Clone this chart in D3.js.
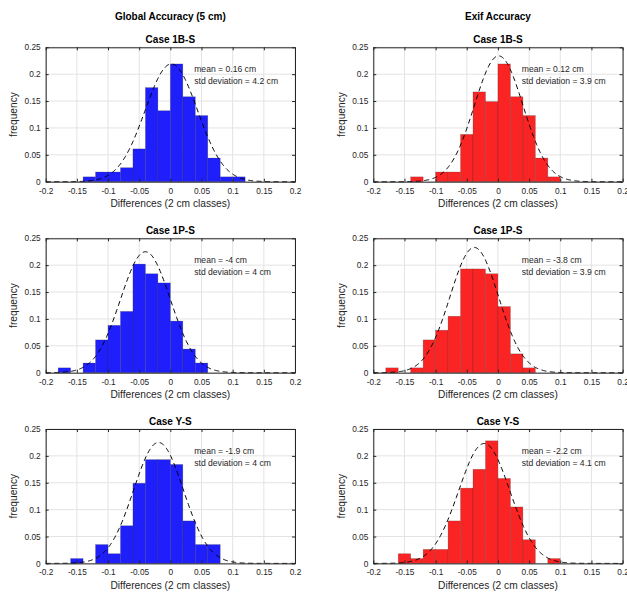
<!DOCTYPE html>
<html><head><meta charset="utf-8">
<script src="https://cdn.jsdelivr.net/npm/d3@7"></script>
<style>body{margin:0;background:#fff;} svg{display:block;font-family:"Liberation Sans",Arial,sans-serif;}</style>
</head><body>
<svg id="c" width="627" height="592"></svg>
<script>
// ---- data ----
const columnTitles = ["Global Accuracy (5 cm)", "Exif Accuracy"];
const caseTitles = ["Case 1B-S", "Case 1P-S", "Case Y-S"];
const binEdgesLeft = [-0.2,-0.18,-0.16,-0.14,-0.12,-0.1,-0.08,-0.06,-0.04,-0.02,0,0.02,0.04,0.06,0.08,0.1,0.12,0.14,0.16,0.18];
// frequencies per bin (bins start at binEdgesLeft)
const global1B = [0,0,0,0.009,0.018,0.018,0.026,0.061,0.175,0.132,0.219,0.158,0.123,0.044,0.009,0.009,0,0,0,0];
const exif1B   = [0,0,0,0.009,0,0.018,0.018,0.088,0.167,0.149,0.219,0.158,0.123,0.044,0.009,0,0,0,0,0];
const global1P = [0,0.009,0,0.018,0.061,0.088,0.114,0.202,0.184,0.167,0.096,0.044,0.018,0,0,0,0,0,0,0];
const exif1P   = [0,0.009,0,0.009,0.061,0.079,0.105,0.193,0.193,0.184,0.123,0.035,0.009,0,0,0,0,0,0,0];
const globalY  = [0,0,0.009,0,0.035,0.018,0.070,0.149,0.193,0.193,0.184,0.079,0.035,0.035,0,0,0,0,0,0];
const exifY    = [0,0,0.018,0.009,0.026,0.026,0.079,0.140,0.175,0.228,0.158,0.105,0.044,0,0.009,0,0,0,0,0];
const meansCm  = [[0.16, 0.12], [-4, -3.8], [-1.9, -2.2]];
const stdsCm   = [[4.2, 3.9], [4, 3.9], [4, 4.1]];
const meanLabels = [["0.16","0.12"],["-4","-3.8"],["-1.9","-2.2"]];
const stdLabels  = [["4.2","3.9"],["4","3.9"],["4","4.1"]];
const curvePeaks = [[0.219, 0.234], [0.225, 0.233], [0.225, 0.223]];
const xTicks = [-0.2,-0.15,-0.1,-0.05,0,0.05,0.1,0.15,0.2];
const yTicks = [0,0.05,0.1,0.15,0.2,0.25];
const panelValues = [[global1B, exif1B],[global1P, exif1P],[globalY, exifY]];
const barColors = ["#1f1ffb", "#fb2424"];

// ---- layout ----
const svg = d3.select("#c");
const colLeft = [45.7, 373.3];
const rowTop = [47.3, 238.3, 429];
const pw = 249.3, ph = 134.4;
const axisColor = "#262626";
const gridColor = "#e3e3e3";
const fmt = v => v === 0 ? "0" : String(v);

columnTitles.forEach((t,i)=>{
  svg.append("text").attr("x", colLeft[i] + pw/2).attr("y", 19.5)
    .attr("text-anchor","middle").attr("font-size",10).attr("font-weight","bold").attr("fill","#000").text(t);
});

for (let r=0;r<3;r++){
  for (let c=0;c<2;c++){
    const g = svg.append("g").attr("transform",`translate(${colLeft[c]},${rowTop[r]})`);
    const x = d3.scaleLinear().domain([-0.2,0.2]).range([0,pw]);
    const y = d3.scaleLinear().domain([0,0.25]).range([ph,0]);
    // grid
    g.append("g").selectAll("line").data(xTicks).join("line")
      .attr("x1",d=>x(d)).attr("x2",d=>x(d)).attr("y1",0).attr("y2",ph)
      .attr("stroke",gridColor).attr("stroke-width",1);
    g.append("g").selectAll("line").data(yTicks).join("line")
      .attr("y1",d=>y(d)).attr("y2",d=>y(d)).attr("x1",0).attr("x2",pw)
      .attr("stroke",gridColor).attr("stroke-width",1);
    // bars
    const vals = panelValues[r][c];
    const binW = 0.02;
    g.append("g").selectAll("rect").data(binEdgesLeft.map((e,i)=>({e,v:vals[i]})).filter(d=>d.v>0)).join("rect")
      .attr("x",d=>x(d.e)).attr("width",d=>x(d.e+binW)-x(d.e))
      .attr("y",d=>y(d.v)).attr("height",d=>y(0)-y(d.v))
      .attr("fill",barColors[c]).attr("stroke","rgba(40,40,40,0.35)").attr("stroke-width",0.6);
    // normal curve
    const mu = meansCm[r][c]/100, sd = stdsCm[r][c]/100, pk = curvePeaks[r][c];
    const pts = d3.range(0,401).map(i=>{ const xv = -0.2 + i*0.001; return [xv, pk*Math.exp(-0.5*((xv-mu)/sd)**2)]; });
    g.append("path").datum(pts)
      .attr("d", d3.line().x(d=>x(d[0])).y(d=>y(d[1])))
      .attr("fill","none").attr("stroke","#000").attr("stroke-width",1).attr("stroke-dasharray","5,3.5");
    // axes
    const xa = g.append("g").attr("transform",`translate(0,${ph})`)
      .call(d3.axisBottom(x).tickValues(xTicks).tickFormat(fmt).tickSizeInner(-3).tickSizeOuter(0).tickPadding(6));
    const xt = g.append("g").call(d3.axisTop(x).tickValues(xTicks).tickFormat("").tickSizeInner(-3).tickSizeOuter(0));
    const ya = g.append("g").call(d3.axisLeft(y).tickValues(yTicks).tickFormat(fmt).tickSizeInner(-3).tickSizeOuter(0).tickPadding(5));
    const yr = g.append("g").attr("transform",`translate(${pw},0)`).call(d3.axisRight(y).tickValues(yTicks).tickFormat("").tickSizeInner(-3).tickSizeOuter(0));
    [xa,xt,ya,yr].forEach(a=>{
      a.select(".domain").attr("stroke",axisColor).attr("stroke-width",1);
      a.selectAll(".tick line").attr("stroke",axisColor);
      a.selectAll("text").attr("font-size",8.3).attr("fill","#262626").attr("font-family","Liberation Sans, Arial, sans-serif");
    });
    // labels
    g.append("text").attr("x",pw/2).attr("y",-4.5).attr("text-anchor","middle")
      .attr("font-size",10).attr("font-weight","bold").attr("fill","#000").text(caseTitles[r]);
    g.append("text").attr("x",pw/2).attr("y",ph+25.5).attr("text-anchor","middle")
      .attr("font-size",10.2).attr("fill","#262626").text("Differences (2 cm classes)");
    g.append("text").attr("transform",`translate(${-colLeft[c]+ (c===0?16.5:-373.3+345+ 373.3) - (c===0?0:0)},${ph/2}) rotate(-90)`)
      .attr("text-anchor","middle").attr("font-size",10.2).attr("fill","#262626").text("frequency");
    g.append("text").attr("x",148.5).attr("y",24.8).attr("font-size",8.6).attr("fill","#262626")
      .text(`mean = ${meanLabels[r][c]} cm`);
    g.append("text").attr("x",148.5).attr("y",36.5).attr("font-size",8.6).attr("fill","#262626")
      .text(`std deviation = ${stdLabels[r][c]} cm`);
  }
}
</script>
</body></html>
